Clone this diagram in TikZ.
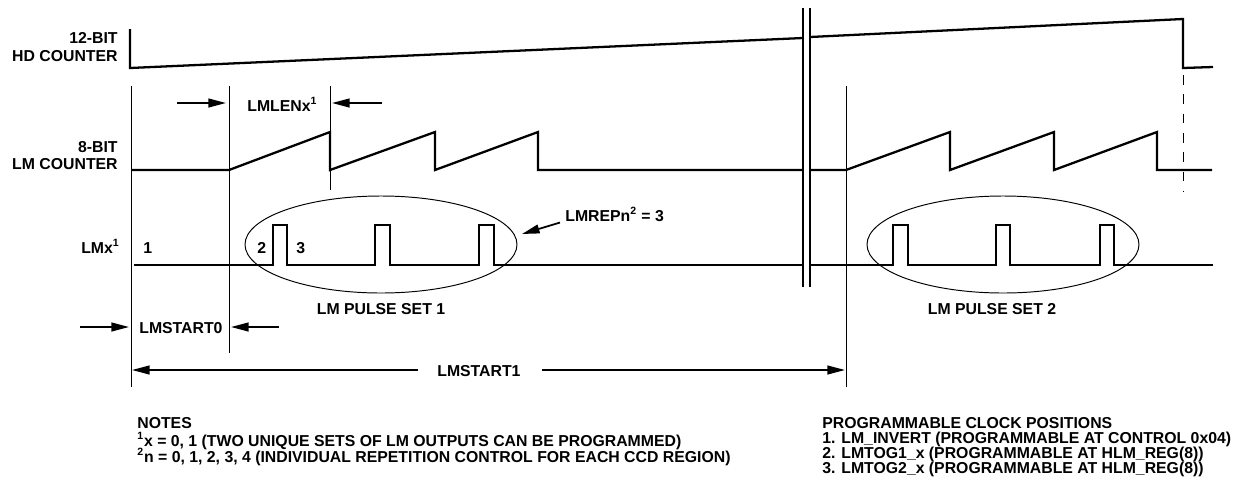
\documentclass[tikz,border=0pt]{standalone}
\usepackage{fontspec}
\setmainfont{Liberation Sans}
\usetikzlibrary{arrows.meta}

\begin{document}
\begin{tikzpicture}[x=0.02cm, y=-0.02cm,
    segnale/.style={line width=1.3pt},
    guida/.style={line width=0.55pt},
    rottura/.style={line width=0.7pt},
    freccia/.style={line width=1pt, -{Triangle[length=10pt, width=5pt]}},
    testo/.style={font=\bfseries\fontsize{9}{10}\selectfont, inner sep=0pt},
    nota/.style={font=\bfseries\fontsize{9}{10}\selectfont, inner sep=0pt, anchor=base west}]
\useasboundingbox (0,0) rectangle (1238,491);

    % Etichette dei segnali
    \node[testo, anchor=base east] (hdA) at (118,43) {12-BIT};
    \node[testo, anchor=base east] (hdB) at (118,61) {HD COUNTER};
    \node[testo, anchor=base east] (lmA) at (118,152) {8-BIT};
    \node[testo, anchor=base east] (lmB) at (118,169) {LM COUNTER};
    \node[testo, anchor=base east] (lmx) at (120,253) {LMx\textsuperscript{1}};

    % Linee di riferimento
    \coordinate (g1t) at (131,86);  \coordinate (g1b) at (131,387);
    \coordinate (g2t) at (229,86);  \coordinate (g2b) at (229,353);
    \coordinate (g3t) at (330,86);  \coordinate (g3b) at (330,190);
    \coordinate (g4t) at (846,86);  \coordinate (g4b) at (846,387);
    \draw[guida] (g1t) -- (g1b);
    \draw[guida] (g2t) -- (g2b);
    \draw[guida] (g3t) -- (g3b);
    \draw[guida] (g4t) -- (g4b);

    % Interruzione dell'asse
    \coordinate (r1t) at (803,8);  \coordinate (r1b) at (803,287);
    \coordinate (r2t) at (810,8);  \coordinate (r2b) at (810,287);
    \draw[rottura] (r1t) -- (r1b);
    \draw[rottura] (r2t) -- (r2b);

    % Contatore HD
    \draw[segnale] (130,29) -- (130,68) -- (803,38);
    \draw[segnale] (810,37) -- (1183,19) -- (1183,68) -- (1213,67);
    \draw[guida, dash pattern=on 5.5pt off 5.5pt] (1183,75) -- (1183,192);

    % Contatore LM
    \draw[segnale] (131,170) -- (229,170) -- (330,132) -- (330,170)
        -- (435,132) -- (435,170) -- (538,132) -- (538,170) -- (803,170);
    \draw[segnale] (810,170) -- (846,170) -- (950,132) -- (950,170)
        -- (1054,132) -- (1054,170) -- (1157,132) -- (1157,170) -- (1212,170);

    % Uscita LMx
    \draw[segnale] (134,265) -- (273,265) -- ++(0,-40) -- ++(14,0) -- ++(0,40)
        -- (375,265) -- ++(0,-40) -- ++(15,0) -- ++(0,40)
        -- (479,265) -- ++(0,-40) -- ++(15,0) -- ++(0,40) -- (803,265);
    \draw[segnale] (810,265) -- (893,265) -- ++(0,-40) -- ++(15,0) -- ++(0,40)
        -- (996,265) -- ++(0,-40) -- ++(14,0) -- ++(0,40)
        -- (1100,265) -- ++(0,-40) -- ++(14,0) -- ++(0,40) -- (1213,265);
    \node[testo, anchor=base west] (pos1) at (143,253) {1};
    \node[testo, anchor=base west] (pos2) at (257,253) {2};
    \node[testo, anchor=base west] (pos3) at (296,253) {3};

    % Gruppi di impulsi
    \draw[guida] (381,244.5) ellipse [x radius=136, y radius=48.5];
    \draw[guida] (1003,244.5) ellipse [x radius=136, y radius=48.5];
    \node[testo, anchor=base] (set1) at (381,314) {LM PULSE SET 1};
    \node[testo, anchor=base] (set2) at (992,314) {LM PULSE SET 2};
    \node[testo, anchor=base west] (lmrep) at (565,221) {LMREPn\textsuperscript{2} = 3};
    \coordinate (rep) at (522,234);
    \draw[freccia] (lmrep.south west) ++(-5,1) -- (rep);

    % Quote
    \node[testo, anchor=base west] (lmlen) at (247,111) {LMLENx\textsuperscript{1}};
    \coordinate (lenA) at (177,103);  \coordinate (lenA2) at (226,103);
    \coordinate (lenB) at (382,103);  \coordinate (lenB2) at (332,103);
    \draw[freccia] (lenA) -- (lenA2);
    \draw[freccia] (lenB) -- (lenB2);

    \node[testo, anchor=base west] (st0) at (139,333) {LMSTART0};
    \coordinate (st0A) at (80,327);   \coordinate (st0A2) at (129,327);
    \coordinate (st0B) at (279,327);  \coordinate (st0B2) at (231,327);
    \draw[freccia] (st0A) -- (st0A2);
    \draw[freccia] (st0B) -- (st0B2);

    \node[testo, anchor=base west] (st1) at (437,376) {LMSTART1};
    \coordinate (st1A) at (418,370);  \coordinate (st1A2) at (132,370);
    \coordinate (st1B) at (542,370);  \coordinate (st1B2) at (845,370);
    \draw[freccia] (st1A) -- (st1A2);
    \draw[freccia] (st1B) -- (st1B2);

    % Note
    \node[nota] (note) at (137,428) {NOTES};
    \node[nota] (nota1) at (137,446) {\textsuperscript{1}x = 0, 1 (TWO UNIQUE SETS OF LM OUTPUTS CAN BE PROGRAMMED)};
    \node[nota] (nota2) at (137,462) {\textsuperscript{2}n = 0, 1, 2, 3, 4 (INDIVIDUAL REPETITION CONTROL FOR EACH CCD REGION)};
    \node[nota] (pcp) at (822,428) {PROGRAMMABLE CLOCK POSITIONS};
    \node[nota] (pcp1) at (822,443) {1. LM\_INVERT (PROGRAMMABLE AT CONTROL 0x04)};
    \node[nota] (pcp2) at (822,458) {2. LMTOG1\_x (PROGRAMMABLE AT HLM\_REG(8))};
    \node[nota] (pcp3) at (822,473) {3. LMTOG2\_x (PROGRAMMABLE AT HLM\_REG(8))};
\end{tikzpicture}
\end{document}
